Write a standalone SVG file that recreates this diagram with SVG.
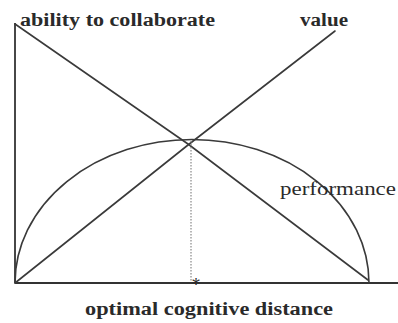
<svg xmlns="http://www.w3.org/2000/svg" width="398" height="323" viewBox="0 0 398 323">
  <style>
    .ln { fill: none; stroke: #3a3a3a; stroke-width: 1.6; stroke-linejoin: round; stroke-linecap: round; }
    .ax { fill: none; stroke: #333; stroke-width: 1.8; }
    .dot { fill: none; stroke: #888; stroke-width: 1.2; stroke-dasharray: 1.5 1.5; }
    .lbl { font-family: "Liberation Serif", "Times New Roman", serif; font-size: 18px; fill: #2a2a2a; }
    .b { font-weight: bold; }
  </style>
  <rect width="398" height="323" fill="#fff"/>
  <g id="axes">
    <line class="ax" x1="15" y1="23" x2="15" y2="283"/>
    <line class="ax" x1="15" y1="283" x2="398" y2="283"/>
  </g>
  <g id="connectors">
    <polyline id="ability-line" class="ln" points="15,24 188,144 368,280"/>
    <polyline id="value-line" class="ln" points="15,283 188,145 335,31"/>
    <path id="performance-curve" class="ln" d="M15,283 A177,143.5 0 0 1 369,283"/>
    <line id="optimum" class="dot" x1="191" y1="141" x2="191" y2="282"/>
  </g>
  <g id="labels">
    <text id="t-ability" class="lbl b" x="20" y="26" textLength="195" lengthAdjust="spacingAndGlyphs">ability to collaborate</text>
    <text id="t-value" class="lbl b" x="300" y="26" textLength="48" lengthAdjust="spacingAndGlyphs">value</text>
    <text id="t-performance" class="lbl" x="280" y="195" textLength="116" lengthAdjust="spacingAndGlyphs">performance</text>
    <text id="t-optimal" class="lbl b" x="85" y="315" textLength="248" lengthAdjust="spacingAndGlyphs">optimal cognitive distance</text>
    <text id="t-star" class="lbl" x="196" y="291" font-size="12" text-anchor="middle">*</text>
  </g>
</svg>
